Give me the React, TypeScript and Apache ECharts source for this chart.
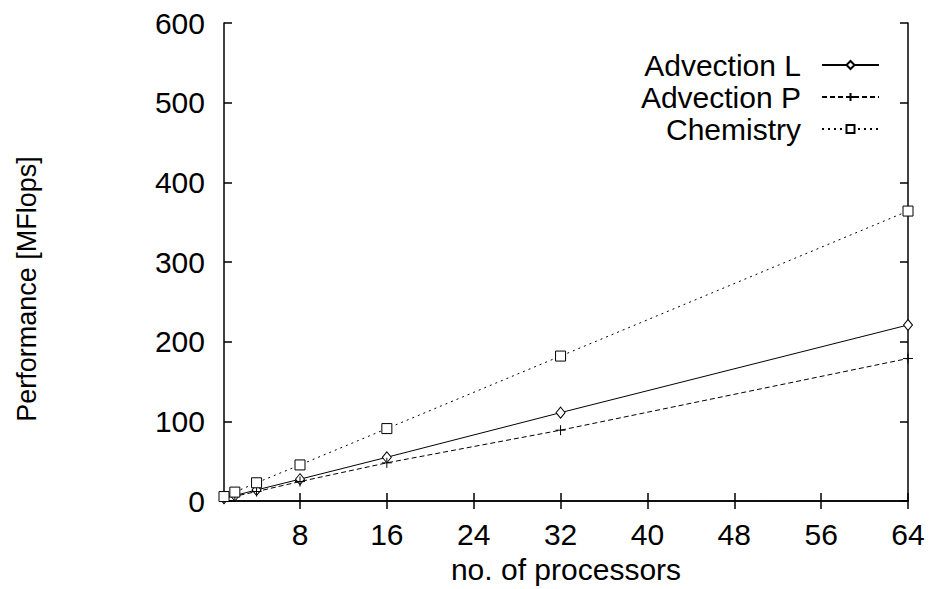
import React, { useEffect, useRef } from "react";
import * as echarts from "echarts";

const processors = [1, 2, 4, 8, 16, 32, 64];
const advectionL = [3.5, 7, 14, 27.5, 55, 111, 221];
const advectionP = [3, 6, 12, 24.5, 48, 89, 179];
const chemistry = [5.7, 11.3, 23, 45.4, 91, 182, 364];
const xTicks = [8, 16, 24, 32, 40, 48, 56, 64];
const seriesNames = ["Advection L", "Advection P", "Chemistry"];

const FONT = '"Liberation Sans", Arial, Helvetica, sans-serif';
const PLUS = "path://M0,5 L10,5 M5,0 L5,10";

const pairs = (ys: number[]) => processors.map((x, i) => [x, ys[i]]);

export default function App() {
  const ref = useRef<HTMLDivElement>(null);
  useEffect(() => {
    document.body.style.margin = "0";
    if (!ref.current) return;
    const chart = echarts.init(ref.current, undefined, { renderer: "svg" });
    const axisLine = { show: true, lineStyle: { color: "#000", width: 1.5 } };
    const tickStyle = { show: true, inside: true, length: 8, lineStyle: { color: "#000", width: 1.5 } };
    chart.setOption({
      animation: false,
      backgroundColor: "#fff",
      textStyle: { fontFamily: FONT },
      grid: { left: 224, right: 22, top: 23, bottom: 86, containLabel: false },
      legend: {
        orient: "vertical",
        right: 50,
        top: 49,
        align: "right",
        padding: 0,
        itemGap: 0,
        itemWidth: 57,
        itemHeight: 10,
        data: seriesNames,
        textStyle: { fontSize: 30, lineHeight: 32, color: "#000", fontFamily: FONT, padding: [0, 16, 0, 0] },
      },
      xAxis: [
        {
          type: "value",
          min: 1,
          max: 64,
          position: "bottom",
          axisLine,
          axisTick: { ...tickStyle, customValues: xTicks },
          axisLabel: { customValues: xTicks, fontSize: 30, color: "#000", margin: 18, fontFamily: FONT },
          splitLine: { show: false },
          name: "no. of processors",
          nameLocation: "middle",
          nameGap: 50,
          nameTextStyle: { fontSize: 30, color: "#000", fontFamily: FONT },
        },
        {
          type: "value",
          min: 1,
          max: 64,
          position: "top",
          axisLine,
          axisTick: { ...tickStyle, customValues: xTicks },
          axisLabel: { show: false },
          splitLine: { show: false },
        },
      ],
      yAxis: [
        {
          type: "value",
          min: 0,
          max: 600,
          interval: 100,
          position: "left",
          axisLine,
          axisTick: tickStyle,
          axisLabel: { fontSize: 30, color: "#000", margin: 19, fontFamily: FONT },
          splitLine: { show: false },
        },
        {
          type: "value",
          min: 0,
          max: 600,
          interval: 100,
          position: "right",
          axisLine,
          axisTick: tickStyle,
          axisLabel: { show: false },
          splitLine: { show: false },
        },
      ],
      graphic: [
        {
          type: "text",
          x: 27,
          y: 289,
          rotation: Math.PI / 2,
          style: {
            text: "Performance [MFlops]",
            fontSize: 27,
            fontFamily: FONT,
            fill: "#000",
            align: "center",
            verticalAlign: "middle",
          },
        },
      ],
      series: [
        {
          name: seriesNames[0],
          type: "line",
          data: pairs(advectionL),
          symbol: "diamond",
          symbolSize: [9, 11],
          lineStyle: { color: "#000", width: 1, type: "solid" },
          itemStyle: { color: "#fff", borderColor: "#000", borderWidth: 1 },
        },
        {
          name: seriesNames[1],
          type: "line",
          data: pairs(advectionP),
          symbol: PLUS,
          symbolSize: 10,
          lineStyle: { color: "#000", width: 1, type: [5, 3] },
          itemStyle: { color: "rgba(0,0,0,0)", borderColor: "#000", borderWidth: 1 },
        },
        {
          name: seriesNames[2],
          type: "line",
          data: pairs(chemistry),
          symbol: "rect",
          symbolSize: 10,
          lineStyle: { color: "#000", width: 1, type: [2, 4] },
          itemStyle: { color: "#fff", borderColor: "#000", borderWidth: 1 },
        },
      ],
    });
    return () => chart.dispose();
  }, []);
  return <div ref={ref} style={{ width: 930, height: 589 }} />;
}
